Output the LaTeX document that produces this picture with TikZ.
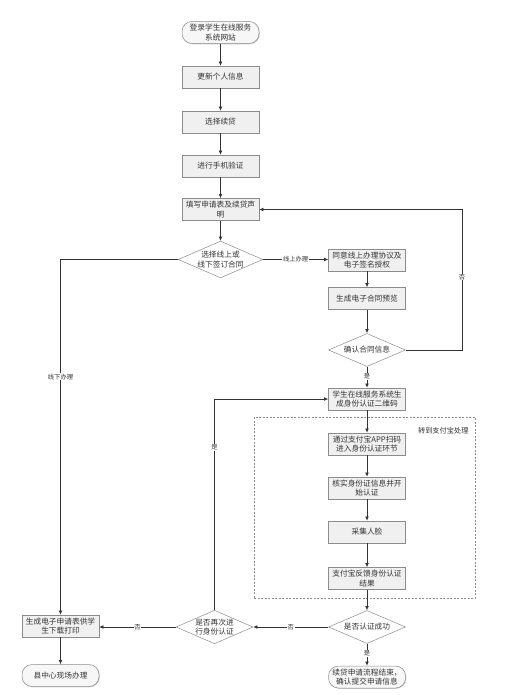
\documentclass[tikz,border=0pt]{standalone}
\usepackage{fontspec}
\newfontfamily\cjk{Noto Sans CJK SC}
\usetikzlibrary{shapes.geometric,arrows.meta,shadows}
\begin{document}
\begin{tikzpicture}[x=1pt,y=-1pt,
 every node/.style={font=\cjk\fontsize{7.7}{9.6}\selectfont, text=black!80},
 box/.style={draw=black!45, fill=black!6, minimum width=77pt, minimum height=22pt, inner sep=0.8pt, align=center, line width=0.5pt,
   drop shadow={shadow xshift=0.8pt,shadow yshift=-0.8pt,fill=black!30,opacity=0.6}},
 term/.style={box, rounded corners=10pt, fill=black!3},
 dec/.style={draw=black!45, fill=white, diamond, aspect=2.3, minimum width=77pt, minimum height=33pt, inner sep=0pt, align=center, line width=0.5pt},
 line/.style={draw=black!80, line width=0.7pt},
 arr/.style={line, -{Latex[length=4.2pt,width=3.8pt]}},
 lbl/.style={fill=white, inner sep=0.6pt, font=\cjk\fontsize{6.3}{7}\selectfont}
]
\useasboundingbox (0,0) rectangle (510,695);
\fill[white] (0,0) rectangle (510,695);

% dashed region
\node[draw=black!45, dashed, dash pattern=on 2pt off 1.5pt, line width=0.5pt, minimum width=221pt, minimum height=181pt, inner sep=0pt] (zone) at (364.5,507.5) {};
\node[anchor=east, font=\cjk\fontsize{7.2}{8}\selectfont] (zonelbl) at (472,431) {转到支付宝处理};

% nodes
\node[term] (start) at (220.5,32.5) {登录学生在线服务\\系统网站};
\node[box] (update) at (220.5,77) {更新个人信息};
\node[box] (choose) at (220.5,122) {选择续贷};
\node[box] (phone) at (220.5,166) {进行手机验证};
\node[box] (fill) at (220.5,209.5) {填写申请表及续贷声\\明};
\node[dec] (dec1) at (220.5,259.5) {选择线上或\\线下签订合同};
\node[box] (agree) at (367,260) {同意线上办理协议及\\电子签名授权};
\node[box] (preview) at (367,298.5) {生成电子合同预览};
\node[dec] (confirm) at (367,350) {确认合同信息};
\node[box] (qr) at (367,399) {学生在线服务系统生\\成身份认证二维码};
\node[box] (scan) at (367,444) {通过支付宝APP扫码\\进入身份认证环节};
\node[box] (verify) at (367,488) {核实身份证信息并开\\始认证};
\node[box] (face) at (367,532) {采集人脸};
\node[box] (feedback) at (367,578.5) {支付宝反馈身份认证\\结果};
\node[dec] (success) at (367,627) {是否认证成功};
\node[term] (finish) at (367,677) {续贷申请流程结束，\\确认提交申请信息};
\node[dec] (again) at (214.5,627) {是否再次进\\行身份认证};
\node[box] (offline) at (60.5,626) {生成电子申请表供学\\生下载打印};
\node[term] (field) at (60.5,675.5) {县中心现场办理};

\coordinate (rloop) at (462,350);

% connectors
\draw[arr] (start) -- (update);
\draw[arr] (update) -- (choose);
\draw[arr] (choose) -- (phone);
\draw[arr] (phone) -- (fill);
\draw[arr] (fill) -- (dec1);
\draw[arr] (dec1.east) -- node[lbl] {线上办理} (dec1.east -| agree.west);
\draw[arr] (agree) -- (preview);
\draw[arr] (preview) -- (confirm);
\draw[arr] (confirm.east) -- (rloop) |- node[lbl, pos=0.26] {否} (fill.east);
\draw[arr] (confirm.south) -- node[lbl, pos=0.45] {是} (qr.north);
\draw[arr] (qr) -- (scan);
\draw[arr] (scan) -- (verify);
\draw[arr] (verify) -- (face);
\draw[arr] (face) -- (feedback);
\draw[arr] (feedback) -- (success);
\draw[arr] (success.south) -- node[lbl, pos=0.45] {是} (finish.north);
\draw[arr] (success.west) -- node[lbl] {否} (again.east);
\draw[arr] (again.west) -- node[lbl] {否} (again.west -| offline.east);
\draw[arr] (again.north) |- node[lbl, pos=0.385] {是} (qr.west);
\draw[arr] (dec1.west) -| node[lbl, pos=0.665] {线下办理} (offline.north);
\draw[arr] (offline) -- (field);
\end{tikzpicture}
\end{document}
